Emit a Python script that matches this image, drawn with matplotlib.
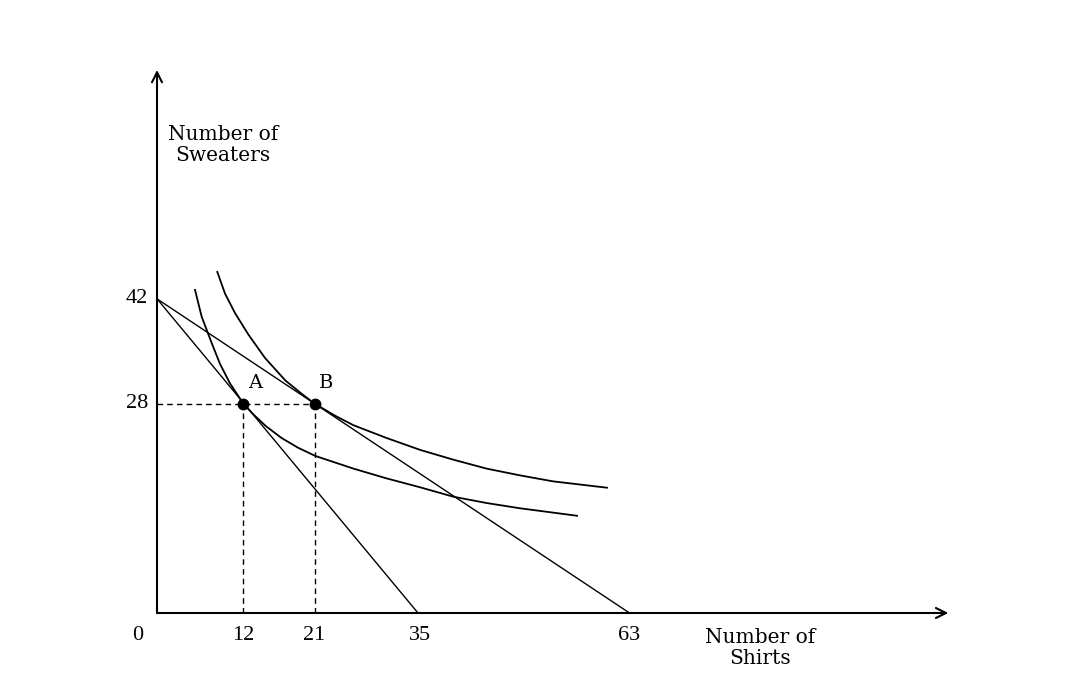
import matplotlib
matplotlib.use("Agg")
import matplotlib.pyplot as plt

# ---- data ----
x_axis_end = 105.5
y_axis_end = 72.6

budget_low_x = [0, 34.8]
budget_low_y = [42, 0]
budget_high_x = [0, 63]
budget_high_y = [42, 0]

ic_low_x = [5.07, 5.96, 7.29, 8.4, 9.73, 11.5, 12.8, 14.5, 16.6, 18.8, 21.1, 26.2, 30.6,
            35.1, 39.5, 43.96, 48.4, 56.0]
ic_low_y = [43.2, 39.6, 36.1, 33.3, 30.7, 28.0, 26.6, 25.0, 23.4, 22.1, 21.0, 19.3, 18.0,
            16.8, 15.55, 14.7, 14.0, 13.0]

ic_high_x = [8.04, 9.07, 10.4, 12.2, 14.4, 17.1, 19.3, 21.0, 23.7, 26.2, 30.6, 35.1,
             39.5, 43.96, 48.4, 52.8, 60.0]
ic_high_y = [45.6, 42.7, 40.1, 37.2, 34.1, 31.1, 29.3, 28.0, 26.4, 25.1, 23.4, 21.8,
             20.5, 19.3, 18.4, 17.6, 16.75]

point_names = ["A", "B"]
point_x = [11.5, 21.0]
point_y = [28.0, 28.0]

x_tick_pos = [11.5, 21, 35, 63]
x_tick_labels = ["12", "21", "35", "63"]
y_tick_pos = [42, 28]
y_tick_labels = ["42", "28"]

# ---- figure ----
fig = plt.figure(figsize=(10.77, 7), dpi=100)
ax = fig.add_axes([0, 0, 1, 1])
ax.set_xlim(-157 / 7.5, (1077 - 157) / 7.5)
ax.set_ylim(-(700 - 613) / 7.48, 613 / 7.48)
ax.axis("off")

lw_axis = 1.5
lw = 1.0
col = "black"

# axes with open arrows
ax.annotate("", xy=(x_axis_end, 0), xytext=(0, 0),
            arrowprops=dict(arrowstyle="->", color=col, lw=lw_axis,
                            mutation_scale=18, shrinkA=0, shrinkB=0))
ax.annotate("", xy=(0, y_axis_end), xytext=(0, 0),
            arrowprops=dict(arrowstyle="->", color=col, lw=lw_axis,
                            mutation_scale=18, shrinkA=0, shrinkB=0))

# budget lines
ax.plot(budget_low_x, budget_low_y, color=col, lw=lw)
ax.plot(budget_high_x, budget_high_y, color=col, lw=lw)

# indifference curves
ax.plot(ic_low_x, ic_low_y, color=col, lw=lw * 1.3, solid_joinstyle="round")
ax.plot(ic_high_x, ic_high_y, color=col, lw=lw * 1.3, solid_joinstyle="round")

# dashed guides
dash = (0, (4, 3))
ax.plot([0, point_x[1]], [point_y[1], point_y[1]], color=col, lw=lw, linestyle=dash)
for px, py in zip(point_x, point_y):
    ax.plot([px, px], [0, py], color=col, lw=lw, linestyle=dash)

# points
ax.plot(point_x, point_y, "o", color=col, markersize=7.5, zorder=5)

serif = ["DejaVu Serif"]
digits = ["Liberation Serif", "DejaVu Serif"]

for name, px, py in zip(point_names, point_x, point_y):
    ax.text(px + 1.6, py + 2.75, name, ha="center", va="center",
            family=serif, fontsize=14)

# tick labels
for p, lab in zip(x_tick_pos, x_tick_labels):
    ax.text(p, -3.07, lab, ha="center", va="center", family=digits, fontsize=16)
for p, lab in zip(y_tick_pos, y_tick_labels):
    ax.text(-2.7, p, lab, ha="center", va="center", family=digits, fontsize=16)
ax.text(-2.55, -3.07, "0", ha="center", va="center", family=digits, fontsize=16)

# axis titles
ax.text(8.8, 62.6, "Number of\nSweaters", ha="center", va="center",
        family=serif, fontsize=14.5, linespacing=1.1)
ax.text(80.4, -4.68, "Number of\nShirts", ha="center", va="center",
        family=serif, fontsize=14.5, linespacing=1.1)

fig.savefig("out.png", dpi=100)
